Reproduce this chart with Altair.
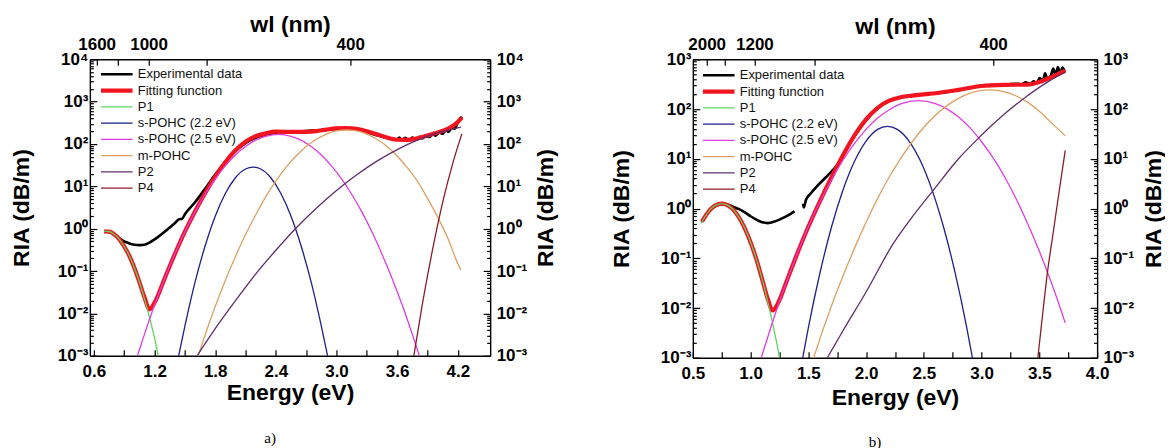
import json
import altair as alt
import pandas as pd

SERIES = ["Experimental data", "Fitting function", "P1", "s-POHC (2.2 eV)",
          "s-POHC (2.5 eV)", "m-POHC", "P2", "P4"]
COLORS = ["#000000", "#f2141e", "#5fd35f", "#1e1e8c", "#e03ce0", "#dea062", "#612d6e", "#8c1c2a"]
WIDTHS = [2.6, 4.2, 1.3, 1.3, 1.3, 1.3, 1.3, 1.3]

# ---------------- panel a) ----------------
A_EXP_E = [0.70, 0.75, 0.80, 0.85, 0.90, 0.95, 1.00, 1.05, 1.10, 1.15, 1.20, 1.30, 1.40, 1.45, 1.47, 1.50,
           1.60, 1.70, 1.80, 1.90, 2.00, 2.10, 2.20, 2.30, 2.40, 2.50, 2.60, 2.70, 2.80, 2.90, 3.00, 3.10, 3.20, 3.30,
           3.35, 3.40, 3.45, 3.50, 3.55, 3.60, 3.62, 3.65, 3.68, 3.72, 3.75, 3.78, 3.82, 3.85, 3.88, 3.92, 3.95, 3.98,
           4.02, 4.05, 4.08, 4.11, 4.14, 4.17, 4.20, 4.22, 4.23, 4.24]
A_EXP_V = [0.86, 0.84, 0.72, 0.60, 0.50, 0.45, 0.42, 0.41, 0.42, 0.47, 0.56, 0.85, 1.35, 1.70, 1.68, 2.2,
           4.2, 8.8, 19, 38, 68, 105, 140, 168, 185, 195, 198, 203, 210, 220, 228, 232, 222, 192,
           175, 160, 150, 138, 134, 128, 142, 124, 140, 122, 142, 128, 148, 136, 158, 146, 170, 158,
           188, 174, 208, 194, 244, 230, 330, 380, 420, 400]
A_FIT_E = [0.70, 0.75, 0.80, 0.85, 0.90, 0.95, 1.00, 1.05, 1.10, 1.15, 1.20, 1.30, 1.40, 1.50, 1.60, 1.70, 1.80,
           1.90, 2.00, 2.10, 2.20, 2.30, 2.40, 2.50, 2.60, 2.70, 2.80, 2.90, 3.00, 3.10, 3.20, 3.30, 3.40, 3.50,
           3.60, 3.70, 3.80, 3.90, 4.00, 4.10, 4.20, 4.24]
A_FIT_V = [0.86, 0.85, 0.74, 0.57, 0.38, 0.23, 0.12, 0.055, 0.024, 0.0125, 0.018, 0.067, 0.25, 0.85, 2.55, 6.9, 17,
           37, 71, 113, 153, 179, 195, 194, 193, 194, 202, 219, 234, 238, 227, 201, 169, 142,
           126, 125, 136, 158, 186, 228, 332, 425]
A_P1_E = [0.70, 0.75, 0.80, 0.85, 0.90, 0.95, 1.00, 1.05, 1.10, 1.15, 1.20, 1.24]
A_P1_V = [0.87, 0.86, 0.74, 0.57, 0.38, 0.23, 0.12, 0.055, 0.022, 0.0081, 0.0026, 0.0009]
A_S22_E = [1.43, 1.50, 1.60, 1.70, 1.80, 1.90, 2.00, 2.10, 2.175, 2.25, 2.35, 2.45, 2.55, 2.65, 2.75, 2.85, 2.92]
A_S22_V = [0.0008, 0.005, 0.054, 0.39, 1.97, 6.8, 16, 25.7, 28.5, 25.7, 16, 6.8, 1.97, 0.39, 0.054, 0.005, 0.0008]
A_S25_E = [1.02, 1.10, 1.20, 1.30, 1.40, 1.50, 1.60, 1.70, 1.80, 1.90, 2.00, 2.10, 2.20, 2.30, 2.425,
           2.55, 2.65, 2.75, 2.85, 2.95, 3.05, 3.15, 3.25, 3.35, 3.45, 3.55, 3.65, 3.75, 3.83]
A_S25_V = [0.00084, 0.0032, 0.0158, 0.067, 0.25, 0.85, 2.5, 6.5, 15, 30.5, 55, 87, 123, 152, 168,
           152, 123, 87, 55, 30.5, 15, 6.5, 2.5, 0.85, 0.25, 0.067, 0.0158, 0.0032, 0.00084]
A_MP_E = [1.62, 1.70, 1.80, 1.90, 2.00, 2.10, 2.20, 2.30, 2.40, 2.50, 2.60, 2.70, 2.80, 2.90, 3.00, 3.10, 3.20,
          3.30, 3.40, 3.50, 3.60, 3.70, 3.80, 3.90, 4.00, 4.10, 4.20, 4.23]
A_MP_V = [0.00083, 0.0031, 0.0146, 0.06, 0.22, 0.73, 2.1, 5.7, 13.3, 28, 52, 87, 129, 172, 204, 216, 204,
          172, 129, 87, 52, 27.7, 13.3, 5.2, 1.9, 0.6, 0.15, 0.105]
A_P2_E = [1.60, 1.80, 2.00, 2.20, 2.40, 2.60, 2.80, 3.00, 3.20, 3.40, 3.60, 3.80, 4.00, 4.23]
A_P2_V = [0.00084, 0.0044, 0.020, 0.085, 0.31, 1.04, 3.05, 8.0, 18.8, 39.4, 73.8, 123, 183, 251]
A_P4_E = [3.75, 3.765, 3.85, 3.95, 4.05, 4.15, 4.24]
A_P4_V = [0.0006, 0.001, 0.017, 0.32, 4.2, 35, 174]

A_X_TICKS = [0.6, 0.9, 1.2, 1.5, 1.8, 2.1, 2.4, 2.7, 3.0, 3.3, 3.6, 3.9, 4.2]
A_X_LABELS = ["0.6", "", "1.2", "", "1.8", "", "2.4", "", "3.0", "", "3.6", "", "4.2"]
A_Y_TICKS = [0.001, 0.01, 0.1, 1, 10, 100, 1000, 10000]
A_Y_LABELS = ["10⁻³", "10⁻²", "10⁻¹", "10⁰", "10¹", "10²", "10³", "10⁴"]
A_TOP_TICKS = [0.627, 0.835, 1.141, 1.714, 3.136]
A_TOP_LABELS = ["1600", "", "1000", "", "400"]

# ---------------- panel b) ----------------
B_EXP1_E = [0.575, 0.60, 0.65, 0.70, 0.75, 0.80, 0.85, 0.90, 0.95, 1.00, 1.05, 1.10, 1.15, 1.20, 1.25, 1.30,
            1.35, 1.38]
B_EXP1_V = [0.54, 0.66, 0.92, 1.13, 1.22, 1.20, 1.08, 0.97, 0.84, 0.70, 0.60, 0.53, 0.51, 0.54, 0.60, 0.68,
            0.79, 0.88]
B_EXP2_E = [1.455, 1.46, 1.48, 1.52, 1.58, 1.65, 1.70, 1.75, 1.80, 1.90, 2.00, 2.10, 2.20, 2.30, 2.40, 2.50,
            2.60, 2.70, 2.80, 2.90, 3.00, 3.10, 3.20, 3.25, 3.30, 3.35, 3.38, 3.42, 3.45, 3.48, 3.50, 3.53, 3.55,
            3.57, 3.60, 3.62, 3.64, 3.66, 3.68, 3.70, 3.72]
B_EXP2_V = [1.25, 1.05, 1.5, 2.0, 2.9, 4.2, 5.5, 7.5, 11.5, 29, 60, 104, 147, 172, 186, 197,
            208, 220, 243, 268, 292, 302, 308, 318, 322, 316, 345, 318, 360, 330, 420, 380, 520,
            400, 470, 650, 480, 700, 520, 680, 560]
B_FIT_E = [0.58, 0.65, 0.70, 0.75, 0.80, 0.85, 0.90, 0.95, 1.00, 1.05, 1.10, 1.15, 1.19, 1.25, 1.30, 1.40,
           1.50, 1.60, 1.70, 1.80, 1.90, 2.00, 2.10, 2.20, 2.30, 2.40, 2.50, 2.60, 2.80, 3.00, 3.20, 3.40,
           3.50, 3.60, 3.724]
B_FIT_V = [0.55, 0.95, 1.17, 1.26, 1.17, 0.95, 0.66, 0.40, 0.21, 0.096, 0.038, 0.015, 0.009, 0.0145, 0.029,
           0.117, 0.43, 1.4, 4.2, 11.8, 29.5, 62, 106, 147, 173, 186, 197, 208, 243, 291, 306, 310,
           350, 434, 590]
B_P1_E = [0.57, 0.65, 0.70, 0.75, 0.80, 0.85, 0.90, 0.95, 1.00, 1.05, 1.10, 1.15, 1.20, 1.25, 1.26]
B_P1_V = [0.50, 0.95, 1.17, 1.26, 1.17, 0.95, 0.66, 0.40, 0.21, 0.096, 0.038, 0.013, 0.0039, 0.001, 0.0007]
B_S22_E = [1.44, 1.50, 1.60, 1.70, 1.80, 1.90, 2.00, 2.10, 2.186, 2.27, 2.37, 2.47, 2.57, 2.67, 2.77, 2.87, 2.93]
B_S22_V = [0.00072, 0.004, 0.05, 0.42, 2.35, 8.9, 22.7, 39, 45, 39, 23, 9.1, 2.4, 0.43, 0.052, 0.0042, 0.00076]
B_S25_E = [1.08, 1.20, 1.30, 1.40, 1.50, 1.60, 1.70, 1.80, 1.90, 2.00, 2.10, 2.20, 2.30, 2.456,
           2.60, 2.70, 2.80, 2.90, 3.00, 3.10, 3.20, 3.30, 3.40, 3.50, 3.60, 3.70, 3.724]
B_S25_V = [0.00081, 0.0061, 0.0285, 0.117, 0.43, 1.35, 3.8, 9.4, 20.4, 39, 65.7, 97, 127, 148,
           129, 101, 69, 41.9, 22, 10.4, 4.3, 1.55, 0.49, 0.138, 0.034, 0.0074, 0.005]
B_MP_E = [1.54, 1.60, 1.70, 1.80, 1.90, 2.00, 2.10, 2.20, 2.30, 2.40, 2.50, 2.60, 2.70, 2.80, 2.90, 3.00,
          3.07, 3.20, 3.30, 3.40, 3.50, 3.60, 3.724]
B_MP_V = [0.00089, 0.0024, 0.011, 0.044, 0.16, 0.53, 1.6, 4.3, 10.2, 22, 43, 75, 117, 164, 208, 237,
          243, 222, 183, 136, 90, 54, 29]
B_P2_E = [1.64, 1.80, 2.00, 2.235, 2.40, 2.58, 2.80, 2.98, 3.20, 3.38, 3.58, 3.724]
B_P2_V = [0.0008, 0.0035, 0.021, 0.197, 0.68, 2.3, 10, 27, 80, 173, 360, 550]
B_P4_E = [3.48, 3.487, 3.52, 3.567, 3.62, 3.67, 3.724]
B_P4_V = [0.0007, 0.001, 0.005, 0.046, 0.33, 2.1, 14.7]

B_X_TICKS = [0.5, 0.75, 1.0, 1.25, 1.5, 1.75, 2.0, 2.25, 2.5, 2.75, 3.0, 3.25, 3.5, 3.75, 4.0]
B_X_LABELS = ["0.5", "", "1.0", "", "1.5", "", "2.0", "", "2.5", "", "3.0", "", "3.5", "", "4.0"]
B_Y_TICKS = [0.001, 0.01, 0.1, 1, 10, 100, 1000]
B_Y_LABELS = ["10⁻³", "10⁻²", "10⁻¹", "10⁰", "10¹", "10²", "10³"]
B_TOP_WL = [2000, 1600, 1200, 800, 400]
B_TOP_LABELS = ["2000", "", "1200", "", "400"]

FONT = "Liberation Sans"


def frame(items):
    rows = []
    for name, seg, es, vs in items:
        for e, v in zip(es, vs):
            rows.append({"E": e, "V": v, "series": name, "seg": seg})
    return pd.DataFrame(rows)


def lab_expr(values, labels):
    return "%s[indexof(%s, datum.value)]" % (json.dumps(labels), json.dumps(values))


def ax(**kw):
    base = dict(grid=False, domainColor="black", domainWidth=1.4, tickColor="black", tickWidth=1.2,
                labelFont=FONT, labelFontWeight="bold", labelFontSize=17, labelColor="black",
                titleFont=FONT, titleFontWeight="bold", titleFontSize=23, titleColor="black",
                labelOverlap=False, labelFlush=False)
    base.update(kw)
    return alt.Axis(**base)


def panel(items, W, H, xdom, xt, xl, ydom, yt, yl, tt, tl, leg_xy, cap, geo):
    df = frame(items)
    xs = alt.Scale(domain=xdom, nice=False, zero=False)
    ys = alt.Scale(type="log", domain=ydom, nice=False)
    yminor = [m * 10.0 ** k for k in range(-3, 4) for m in range(2, 10) if m * 10.0 ** k < ydom[1]]
    leg = alt.Legend(title=None, orient="none", legendX=leg_xy[0], legendY=leg_xy[1], symbolType="stroke",
                     symbolSize=1000, labelFont=FONT, labelFontSize=13, labelColor="#111111",
                     clipHeight=14, rowPadding=2.3, labelOffset=3, labelLimit=300, padding=0)
    color = alt.Color("series:N", scale=alt.Scale(domain=SERIES, range=COLORS), legend=leg)
    sw = alt.StrokeWidth("series:N", scale=alt.Scale(type="ordinal", domain=SERIES, range=WIDTHS), legend=leg)
    xn = alt.X("E:Q", scale=xs, axis=None)
    yn = alt.Y("V:Q", scale=ys, axis=None)
    xb = alt.X("E:Q", scale=xs, axis=ax(orient="bottom", values=xt, labelExpr=lab_expr(xt, xl),
                                          title="Energy (eV)", tickSize={"expr": "-6"}, labelPadding=14,
                                          titleY=geo["xt"], titleBaseline="middle"))
    yleft = alt.Y("V:Q", scale=ys, axis=ax(orient="left", values=yt, labelExpr=lab_expr(yt, yl),
                                           title="RIA (dB/m)", tickSize={"expr": "-7"}, labelPadding=9,
                                           titleX=geo["yl"], titleBaseline="middle", titleAngle=270))
    xtop = alt.X("E:Q", scale=xs, axis=ax(orient="top", values=tt, labelExpr=lab_expr(tt, tl),
                                          title="wl (nm)", tickSize={"expr": "-6"}, labelPadding=12,
                                          titleY=geo["tt"], titleBaseline="middle"))
    yright = alt.Y("V:Q", scale=ys, axis=ax(orient="right", values=yt, labelExpr=lab_expr(yt, yl),
                                            title="RIA (dB/m)", tickSize={"expr": "-7"}, labelPadding=13,
                                            titleX=geo["yr"], titleBaseline="middle", titleAngle=270))
    yml = alt.Y("V:Q", scale=ys, axis=ax(orient="left", values=yminor, labels=False, domain=False,
                                         tickSize={"expr": "-3.5"}, title=None))
    ymr = alt.Y("V:Q", scale=ys, axis=ax(orient="right", values=yminor, labels=False, domain=False,
                                         tickSize={"expr": "-3.5"}, title=None))
    base = alt.Chart(df)
    exp_l = base.transform_filter(alt.datum.series == "Experimental data").mark_line(
        clip=True, interpolate="monotone").encode(x=xb, y=yleft, color=color, strokeWidth=sw, detail="seg:N")
    fit_l = base.transform_filter(alt.datum.series == "Fitting function").mark_line(
        clip=True, interpolate="monotone").encode(x=xn, y=yn, color=color, strokeWidth=sw)
    comp_l = base.transform_filter(
        "datum.series != 'Experimental data' && datum.series != 'Fitting function'").mark_line(
        clip=True, interpolate="monotone").encode(x=xn, y=yn, color=color, strokeWidth=sw, detail="series:N")
    tr_l = base.mark_point(opacity=0).encode(x=xtop, y=yright)
    ml_l = base.mark_point(opacity=0).encode(x=xn, y=yml)
    mr_l = base.mark_point(opacity=0).encode(x=xn, y=ymr)
    return alt.layer(exp_l, fit_l, comp_l, tr_l, ml_l, mr_l).resolve_axis(
        x="independent", y="independent").properties(
        width=W, height=H,
        title=alt.TitleParams(cap, orient="bottom", anchor="middle", frame="group", offset=geo["cap"],
                              font="Liberation Serif", fontSize=15, fontWeight="normal", color="black", dx=-20))


items_a = [
    ("Experimental data", 0, A_EXP_E, A_EXP_V),
    ("Fitting function", 0, A_FIT_E, A_FIT_V),
    ("P1", 0, A_P1_E, A_P1_V),
    ("s-POHC (2.2 eV)", 0, A_S22_E, A_S22_V),
    ("s-POHC (2.5 eV)", 0, A_S25_E, A_S25_V),
    ("m-POHC", 0, A_MP_E, A_MP_V),
    ("P2", 0, A_P2_E, A_P2_V),
    ("P4", 0, A_P4_E, A_P4_V),
]
items_b = [
    ("Experimental data", 0, B_EXP1_E, B_EXP1_V),
    ("Experimental data", 1, B_EXP2_E, B_EXP2_V),
    ("Fitting function", 0, B_FIT_E, B_FIT_V),
    ("P1", 0, B_P1_E, B_P1_V),
    ("s-POHC (2.2 eV)", 0, B_S22_E, B_S22_V),
    ("s-POHC (2.5 eV)", 0, B_S25_E, B_S25_V),
    ("m-POHC", 0, B_MP_E, B_MP_V),
    ("P2", 0, B_P2_E, B_P2_V),
    ("P4", 0, B_P4_E, B_P4_V),
]

B_TOP_TICKS = [1240.0 / w for w in B_TOP_WL]

pa = panel(items_a, 401, 297, [0.56, 4.52], A_X_TICKS, A_X_LABELS, [0.001, 10000], A_Y_TICKS, A_Y_LABELS,
           A_TOP_TICKS, A_TOP_LABELS, (9, 8), "a)", {"xt": 37, "yl": -68, "tt": -35, "yr": 55, "cap": 26})
pb = panel(items_b, 405, 299, [0.5, 4.0], B_X_TICKS, B_X_LABELS, [0.001, 1000], B_Y_TICKS, B_Y_LABELS,
           B_TOP_TICKS, B_TOP_LABELS, (8, 9), "b)", {"xt": 40, "yl": -71, "tt": -33, "yr": 56, "cap": 25})

chart = alt.hconcat(pa, pb, spacing=54).resolve_scale(
    color="independent", strokeWidth="independent"
).properties(
    padding={"left": 3, "top": 5, "right": 0, "bottom": 0}, background="white"
).configure_view(stroke=None)

chart.save("out.html", embed_options={"renderer": "svg", "actions": False})
